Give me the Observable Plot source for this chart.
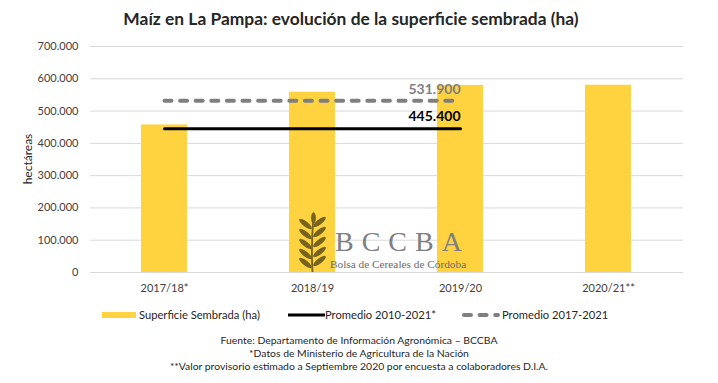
<!DOCTYPE html>
<html>
<head>
<meta charset="utf-8">
<script src="https://cdn.jsdelivr.net/npm/d3@7"></script>
<script src="https://cdn.jsdelivr.net/npm/@observablehq/plot@0.6"></script>
<style>
  html, body { margin: 0; padding: 0; background: #fff; }
  #wrap { position: relative; width: 718px; height: 383px; overflow: hidden; font-family: Lato, "Open Sans", sans-serif; color: #262626; }
  #title { position: absolute; left: 0; width: 702px; top: 8px; text-align: center; font-weight: bold; font-size: 17.4px; line-height: 22px; color: #262626; }
  #chart { position: absolute; left: 0; top: 34px; }
  #ylab { position: absolute; left: 27px; top: 159px; width: 0; height: 0; }
  #ylab span { position: absolute; transform: translate(-50%, -50%) rotate(-90deg); font-size: 12px; white-space: nowrap; color: #262626; }
  .leg { position: absolute; font-size: 11.2px; line-height: 14px; top: 308px; color: #262626; white-space: nowrap; }
  .note { position: absolute; left: 0; width: 718px; text-align: center; font-size: 10.4px; line-height: 13px; color: #262626; white-space: nowrap; }
  #wm { position: absolute; left: 0; top: 0; pointer-events: none; }
</style>
</head>
<body>
<div id="wrap">
  <div id="title">Maíz en La Pampa: evolución de la superficie sembrada (ha)</div>
  <div id="chart"></div>
  <div id="ylab"></div>
  <div id="legend"></div>
  <div id="notes"></div>
</div>
<script>
// ---- data ----
const seasons = ["2017/18*", "2018/19", "2019/20", "2020/21**"];
const area = [457000, 558500, 579500, 580000];
const avgLongLabel = "Promedio 2010-2021*";
const avgLongValue = 445400;
const avgShortLabel = "Promedio 2017-2021";
const avgShortValue = 531900;
const avgSpan = ["2017/18*", "2019/20"];
const yTicks = [0, 100000, 200000, 300000, 400000, 500000, 600000, 700000];
const barLabel = "Superficie Sembrada (ha)";
const yLabel = "hectáreas";
const notes = [
  "Fuente: Departamento de Información Agronómica – BCCBA",
  "*Datos de Ministerio de Agricultura de la Nación",
  "**Valor provisorio estimado a Septiembre 2020 por encuesta a colaboradores D.I.A."
];

const barColor = "#FFD23F";
const loc = d3.formatLocale({decimal: ",", thousands: ".", grouping: [3], currency: ["", ""]});
const fmt = loc.format(",d");

const bars = seasons.map((s, i) => ({season: s, area: area[i]}));
const longLine = avgSpan.map(s => ({season: s, v: avgLongValue}));
const shortLine = avgSpan.map(s => ({season: s, v: avgShortValue}));

const chart = Plot.plot({
  width: 718,
  height: 266,
  marginTop: 12,
  marginBottom: 28,
  marginLeft: 90,
  marginRight: 35,
  style: {fontFamily: "Lato, 'Open Sans', sans-serif", fontSize: "11px", color: "#404040", background: "transparent", overflow: "visible"},
  x: {type: "band", domain: seasons, paddingInner: 0.687, paddingOuter: 0.342, label: null, tickSize: 0, tickPadding: 12},
  y: {domain: [0, 700000], ticks: yTicks, tickFormat: fmt, tickSize: 0, tickPadding: 12, label: null},
  marks: [
    Plot.ruleY(yTicks, {stroke: "#d9d9d9", strokeWidth: 1}),
    Plot.barY(bars, {x: "season", y: "area", fill: barColor}),
    Plot.line(shortLine, {x: "season", y: "v", stroke: "#7f7f7f", strokeWidth: 4, strokeDasharray: "7,8.6", strokeLinecap: "round"}),
    Plot.line(longLine, {x: "season", y: "v", stroke: "#000", strokeWidth: 3}),
    Plot.text(shortLine.slice(-1), {x: "season", y: "v", text: d => fmt(d.v), textAnchor: "end", dy: -11, fill: "#7f7f7f", fontWeight: "bold", fontSize: 14}),
    Plot.text(longLine.slice(-1), {x: "season", y: "v", text: d => fmt(d.v), textAnchor: "end", dy: -12, fill: "#000", fontWeight: "bold", fontSize: 14})
  ]
});
document.getElementById("chart").appendChild(chart);

// ---- y label ----
const yl = document.createElement("span");
yl.textContent = yLabel;
document.getElementById("ylab").appendChild(yl);

// ---- legend ----
const legend = document.getElementById("legend");
legend.innerHTML = `
  <div style="position:absolute;left:102px;top:312px;width:34px;height:6px;background:${barColor}"></div>
  <div class="leg" style="left:139px">${barLabel}</div>
  <svg style="position:absolute;left:288px;top:309px" width="37" height="12"><line x1="0" x2="37" y1="6" y2="6" stroke="#000" stroke-width="3"/></svg>
  <div class="leg" style="left:325px">${avgLongLabel}</div>
  <svg style="position:absolute;left:461px;top:309px" width="40" height="12"><line x1="3" x2="37" y1="6" y2="6" stroke="#7f7f7f" stroke-width="4" stroke-linecap="round" stroke-dasharray="7,8.6"/></svg>
  <div class="leg" style="left:502px">${avgShortLabel}</div>
`;

// ---- notes ----
const notesDiv = document.getElementById("notes");
notes.forEach((t, i) => {
  const d = document.createElement("div");
  d.className = "note";
  d.style.top = (334 + i * 13) + "px";
  d.textContent = t;
  notesDiv.appendChild(d);
});

// ---- watermark (decorative logo) ----
const wm = document.createElementNS("http://www.w3.org/2000/svg", "svg");
wm.setAttribute("id", "wm");
wm.setAttribute("width", "718");
wm.setAttribute("height", "383");
const leaf = "#76631f";
let leafParts = `<path d="M312.5,272 Q311,245 313.5,216" stroke="${leaf}" stroke-width="1.8" fill="none"/>`;
[224, 234, 244, 254, 263].forEach(y => {
  leafParts += `<ellipse cx="305.5" cy="${y}" rx="7.8" ry="2.6" fill="${leaf}" transform="rotate(38 305.5 ${y})"/>`;
  leafParts += `<ellipse cx="319.5" cy="${y - 2}" rx="7.8" ry="2.6" fill="${leaf}" transform="rotate(-38 319.5 ${y - 2})"/>`;
});
leafParts += `<ellipse cx="313.5" cy="218" rx="2.4" ry="5.8" fill="${leaf}"/>`;
wm.innerHTML = leafParts +
  `<text x="335" y="251" font-family="'Liberation Serif','DejaVu Serif',serif" font-size="28" fill="#808080" letter-spacing="8">BCCBA</text>` +
  `<text x="330" y="268" font-family="'Liberation Serif','DejaVu Serif',serif" font-size="11.3" fill="#6b6b6b">Bolsa de Cereales de Córdoba</text>`;
document.getElementById("wrap").appendChild(wm);
</script>
</body>
</html>
